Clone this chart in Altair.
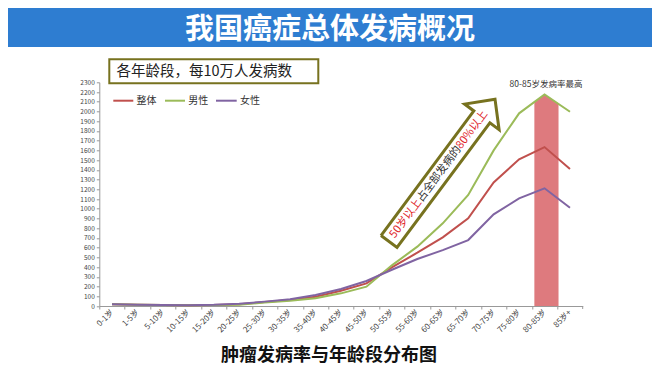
import json
import math
import pandas as pd
import altair as alt

# ---------------- data ----------------
categories = ['0-1岁', '1-5岁', '5-10岁', '10-15岁', '15-20岁', '20-25岁', '25-30岁',
              '30-35岁', '35-40岁', '40-45岁', '45-50岁', '50-55岁', '55-60岁',
              '60-65岁', '65-70岁', '70-75岁', '75-80岁', '80-85岁', '85岁+']
overall = [18, 14, 10, 9, 11, 18, 40, 62, 96, 157, 233, 398, 548, 706, 902, 1270, 1508, 1634, 1408]
male = [18, 14, 10, 9, 10, 14, 35, 55, 79, 130, 199, 418, 610, 850, 1141, 1600, 1981, 2176, 1997]
female = [18, 14, 10, 9, 12, 22, 45, 69, 113, 175, 257, 373, 483, 575, 678, 942, 1107, 1210, 1010]
series_names = ['整体', '男性', '女性']
series_colors = ['#C0504D', '#9BBB59', '#8064A2']
y_ticks = list(range(0, 2301, 100))
band_x = [17.1, 17.5, 18.05]
band_top = [2095, 2176, 2080]

FONT = 'Noto Sans CJK SC'
OLIVE = '#77721F'
RED_TXT = '#E0262B'

# ---------------- layout ----------------
W, H = 483.4, 223.7
PAD_L, PAD_T = 91.3, 74.3
TOTAL_W, TOTAL_H = 644, 358
NCAT = len(categories)
YMAX = 2300
OX, OY = PAD_L + 8, PAD_T + 8  # page position of plot origin


def P(x, y):
    """page pixel -> plot pixel"""
    return x - OX, y - OY


rows = []
for name, vals in zip(series_names, [overall, male, female]):
    for i, v in enumerate(vals):
        rows.append({'x': i + 0.5, 'value': v, 'series': name})
df = pd.DataFrame(rows)

label_expr = json.dumps(categories, ensure_ascii=False) + "[floor(datum.value)]"
step = W / NCAT
xscale = alt.Scale(domain=[0, NCAT], nice=False, zero=False)
yscale = alt.Scale(domain=[0, YMAX], nice=False)
x_axis = alt.Axis(values=[i + 0.5 for i in range(NCAT)], labelExpr=label_expr,
                  tickOffset=-step / 2, labelOffset=step / 2, labelAngle=315,
                  labelAlign='right', labelBaseline='middle', labelFontSize=8,
                  labelColor='#444', labelFont=FONT, tickSize=3, tickColor='#999',
                  domainColor='#999', labelPadding=2, grid=False, title=None,
                  labelOverlap=False)
y_axis = alt.Axis(values=y_ticks, format='d', labelFontSize=6.5, labelColor='#444',
                  labelFont=FONT, tickSize=3, tickColor='#999', domainColor='#999',
                  grid=False, title=None, labelPadding=2, labelOverlap=False)
X = alt.X('x:Q', scale=xscale, axis=x_axis)


def one():
    return alt.Chart(pd.DataFrame({'a': [0]}))


# banner
bx0, by0 = P(8, 8)
bx1, by1 = P(8 + TOTAL_W, 47)
banner = one().mark_rect(color='#2E7DD1').encode(
    x=alt.value(bx0), x2=alt.value(bx1), y=alt.value(by0), y2=alt.value(by1))
tx, ty = P(330, 30)
title = one().mark_text(text='我国癌症总体发病概况', font=FONT, fontSize=29, fontWeight='bold',
                        color='white', align='center', baseline='middle').encode(
    x=alt.value(tx), y=alt.value(ty))
sx, sy = P(329, 356)
subtitle = one().mark_text(text='肿瘤发病率与年龄段分布图', font=FONT, fontSize=18, fontWeight='bold',
                           color='#111', align='center', baseline='middle').encode(
    x=alt.value(sx), y=alt.value(sy))

# red band
band = alt.Chart(pd.DataFrame({'x': band_x, 'top': band_top})).mark_area(
    color='#DE7A7E', opacity=1).encode(x=X, y=alt.Y('top:Q', scale=yscale, axis=y_axis))

# lines
lines = alt.Chart(df).mark_line(strokeWidth=2).encode(
    x=X, y=alt.Y('value:Q', scale=yscale, axis=y_axis),
    color=alt.Color('series:N', scale=alt.Scale(domain=series_names, range=series_colors), legend=None))

# last tick on x axis
last_tick = alt.Chart(pd.DataFrame({'x': [NCAT]})).mark_rule(color='#999').encode(
    x=X, y=alt.value(H), y2=alt.value(H + 3))

# box title
b0x, b0y = P(109.3, 59.3)
b1x, b1y = P(318.3, 83.3)
box = one().mark_rect(fillOpacity=0, stroke=OLIVE, strokeWidth=2).encode(
    x=alt.value(b0x), x2=alt.value(b1x), y=alt.value(b0y), y2=alt.value(b1y))
btx, bty = P(116.5, 72)
box_text = one().mark_text(text='各年龄段，每10万人发病数', font=FONT, fontSize=14.5, color='#222',
                           align='left', baseline='middle').encode(x=alt.value(btx), y=alt.value(bty))

# legend
legend_layers = []
leg_pos = [(113.3, 133.3, 136.5), (165, 185, 188.3), (216, 236.7, 240)]
for name, col, (l0, l1, t0) in zip(series_names, series_colors, leg_pos):
    x0, yy = P(l0, 100.7)
    x1, _ = P(l1, 100.7)
    tx0, _ = P(t0, 100.7)
    legend_layers.append(one().mark_rule(color=col, strokeWidth=2).encode(
        x=alt.value(x0), x2=alt.value(x1), y=alt.value(yy)))
    legend_layers.append(one().mark_text(text=name, font=FONT, fontSize=10, color='#333',
                                         align='left', baseline='middle').encode(
        x=alt.value(tx0), y=alt.value(yy)))

# peak note
nx, ny = P(546, 83.5)
note = one().mark_text(text='80-85岁发病率最高', font=FONT, fontSize=8.5, color='#333',
                       align='center', baseline='middle').encode(x=alt.value(nx), y=alt.value(ny))

# arrow (geometry in page pixels, mapped through the chart scales)
Tx, Ty = 389.0, 241.5
ang = math.radians(53.3)
u = (math.cos(ang), -math.sin(ang))
n = (math.sin(ang), math.cos(ang))
L, hl, hw, hh = 177.4, 22.0, 10.0, 21.5
shape = [(0, -hw), (L - hl, -hw), (L - hl, -hh), (L, 0), (L - hl, hh), (L - hl, hw), (0, hw), (0, -hw)]
arr_rows = []
for k, (a, b) in enumerate(shape):
    px = Tx + a * u[0] + b * n[0]
    py = Ty + a * u[1] + b * n[1]
    qx, qy = P(px, py)
    arr_rows.append({'k': k, 'x': qx / W * NCAT, 'v': (H - qy) / H * YMAX})
arrow = alt.Chart(pd.DataFrame(arr_rows)).mark_line(
    color=OLIVE, strokeWidth=3, fill='white', strokeJoin='miter').encode(
    x=X, y=alt.Y('v:Q', scale=yscale, axis=y_axis), order='k:Q')

fs = 11
a0 = 6
seg1_end = a0 + 45
seg2_c = seg1_end + 3 * fs
seg3_start = seg1_end + 6 * fs
rot = 360 - 53.3


def along(a):
    return P(Tx + a * u[0], Ty + a * u[1])


arrow_texts = []
for txt, aa, al, col in [('50岁以上', seg1_end, 'right', RED_TXT),
                         ('占全部发病的', seg2_c, 'center', '#333'),
                         ('80%以上', seg3_start, 'left', RED_TXT)]:
    px, py = along(aa)
    arrow_texts.append(one().mark_text(text=txt, font=FONT, fontSize=fs, color=col, angle=rot,
                                       align=al, baseline='middle').encode(
        x=alt.value(px), y=alt.value(py)))

chart = alt.layer(
    banner, title, band, lines, last_tick, box, box_text, *legend_layers, note, arrow,
    *arrow_texts, subtitle
).properties(
    width=W, height=H,
    padding={'left': PAD_L, 'top': PAD_T, 'right': TOTAL_W - PAD_L - W, 'bottom': TOTAL_H - PAD_T - H},
    autosize=alt.AutoSizeParams(type='none'),
    background='white'
).configure_view(stroke=None)

chart.save('out.html', embed_options={'renderer': 'svg', 'actions': False})
